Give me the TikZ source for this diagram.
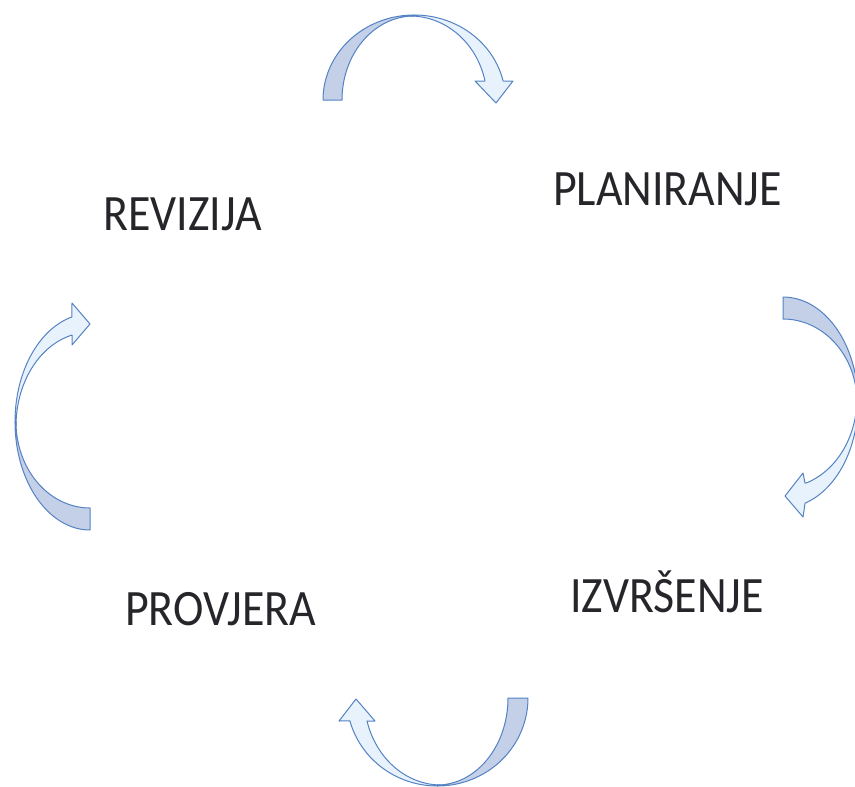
\documentclass[tikz,border=0pt]{standalone}
\usepackage{fontspec}
\setmainfont{Carlito}
\definecolor{bandLine}{RGB}{84,130,196}
\definecolor{bandDark}{RGB}{196,208,232}
\definecolor{bandLight}{RGB}{232,242,252}
\definecolor{txt}{RGB}{38,38,42}
\tikzset{
  darkband/.style={fill=bandDark, draw=bandLine, line width=1pt, line join=round},
  lightband/.style={fill=bandLight, draw=bandLine, line width=1pt, line join=round},
  lbl/.style={font=\fontsize{51}{60}\selectfont, text=txt, inner sep=0pt, anchor=base}
}
\newcommand{\sq}[1]{\scalebox{0.9}[1]{#1}}
\begin{document}
\begin{tikzpicture}[x=1pt,y=-1pt]
\useasboundingbox (0,0) rectangle (855,787);
% top arrow
\path[darkband] plot[domain=180:90,samples=40] ({414.2+91.2*cos(\x)},{100-85*sin(\x)})
  -- plot[domain=90:180,samples=40] ({414+72*cos(\x)},{100-84*sin(\x)}) -- cycle;
\path[lightband] plot[domain=90:12.9,samples=40] ({414.2+91.2*cos(\x)},{100-85*sin(\x)})
  -- (513,81) -- (496,103) -- (475,81) -- (485,81)
  -- plot[domain=13.1:90,samples=40] ({410+77*cos(\x)},{100-84*sin(\x)}) -- cycle;
% right arrow
\path[darkband] plot[domain=90:0,samples=40] ({783+75*cos(\x)},{402.4-105.4*sin(\x)})
  -- plot[domain=0:90,samples=40] ({783+74*cos(\x)},{402-83*sin(\x)}) -- cycle;
\path[lightband] plot[domain=0:-72.9,samples=40] ({783+75*cos(\x)},{402.4-105.4*sin(\x)})
  -- (803,517) -- (785,496) -- (803,473) -- (805,483)
  -- plot[domain=-71.8:0,samples=40] ({783+74*cos(\x)},{398-89.5*sin(\x)}) -- cycle;
% bottom arrow
\path[darkband] plot[domain=360:270,samples=40] ({437.4+90.6*cos(\x)},{698-88*sin(\x)})
  -- plot[domain=270:360,samples=40] ({437+71*cos(\x)},{698-87*sin(\x)}) -- cycle;
\path[lightband] plot[domain=270:195.1,samples=40] ({437.4+90.6*cos(\x)},{698-88*sin(\x)})
  -- (339,721) -- (356,699) -- (375,721) -- (367,721)
  -- plot[domain=195.3:270,samples=40] ({441+76.7*cos(\x)},{698-87*sin(\x)}) -- cycle;
% left arrow
\path[darkband] plot[domain=270:180,samples=40] ({90+75*cos(\x)},{421.9-108.1*sin(\x)})
  -- plot[domain=180:270,samples=40] ({90+74*cos(\x)},{422-86*sin(\x)}) -- cycle;
\path[lightband] plot[domain=180:103.9,samples=40] ({90+75*cos(\x)},{421.9-108.1*sin(\x)})
  -- (72,303) -- (90,324) -- (72,345) -- (72,335)
  -- plot[domain=104.1:180,samples=40] ({90+74*cos(\x)},{426-93.8*sin(\x)}) -- cycle;
% labels
\node[lbl] (revizija) at (182.5,230) {\sq{REVIZIJA}};
\node[lbl] (planiranje) at (667.5,205) {\sq{PLANIRANJE}};
\node[lbl] (izvrsenje) at (667,612) {\sq{IZVRŠENJE}};
\node[lbl] (provjera) at (220.5,625) {\sq{PROVJERA}};
\end{tikzpicture}
\end{document}
